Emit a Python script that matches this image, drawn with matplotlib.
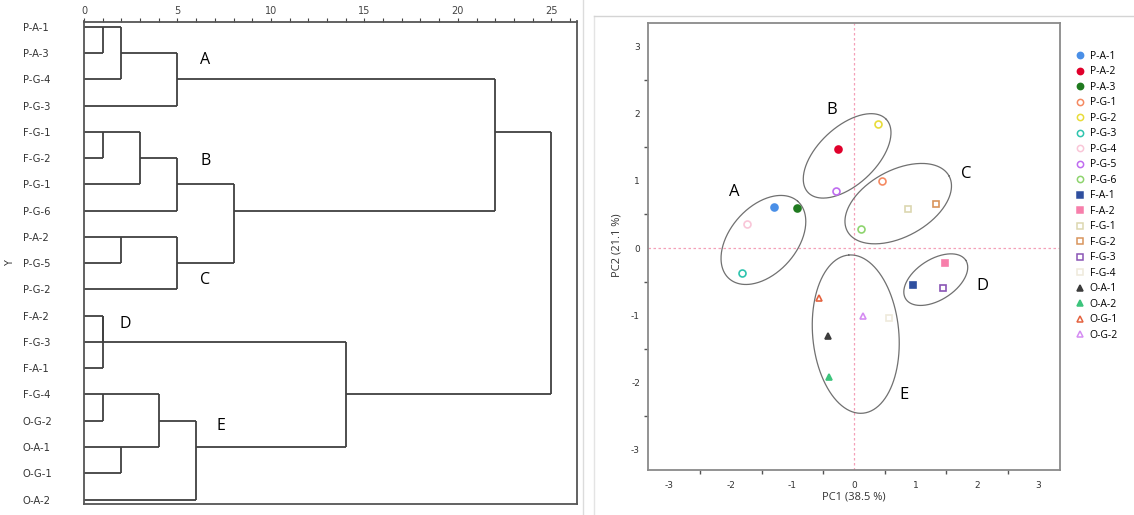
import math
import matplotlib
matplotlib.use("Agg")
import matplotlib.pyplot as plt
import numpy as np
from matplotlib.lines import Line2D

plt.rcParams["axes.unicode_minus"] = False

# -------------------------------------------------------------------
# 1. DATA
# -------------------------------------------------------------------
# Dendrogram leaves (top to bottom) and merges: (child_a, child_b, distance)
leaves = ["P-A-1", "P-A-3", "P-G-4", "P-G-3", "F-G-1", "F-G-2", "P-G-1",
          "P-G-6", "P-A-2", "P-G-5", "P-G-2", "F-A-2", "F-G-3", "F-A-1",
          "F-G-4", "O-G-2", "O-A-1", "O-G-1", "O-A-2"]
merges = [(0, 1, 1.0), (19, 2, 2.0), (20, 3, 5.0),
          (4, 5, 1.0), (22, 6, 3.0), (23, 7, 5.0),
          (8, 9, 2.0), (25, 10, 5.0), (24, 26, 8.0),
          (21, 27, 22.0),
          (11, 12, 1.0), (29, 13, 1.0),
          (14, 15, 1.0), (16, 17, 2.0), (31, 32, 4.0), (33, 18, 6.0),
          (30, 34, 14.0), (28, 35, 25.0)]
dendro_groups = ["A", "B", "C", "D", "E"]
dendro_group_x = [6.5, 6.5, 6.5, 2.2, 7.3]
dendro_group_y = [1.25, 5.1, 9.65, 11.3, 15.2]

# PCA scores
samples = ["P-A-1", "P-A-2", "P-A-3", "P-G-1", "P-G-2", "P-G-3", "P-G-4",
           "P-G-5", "P-G-6", "F-A-1", "F-A-2", "F-G-1", "F-G-2", "F-G-3",
           "F-G-4", "O-A-1", "O-A-2", "O-G-1", "O-G-2"]
pc1 = [-1.29, -0.26, -0.92, 0.46, 0.39, -1.81, -1.73, -0.29, 0.11,
       0.96, 1.48, 0.88, 1.34, 1.45, 0.57, -0.42, -0.40, -0.56, 0.14]
pc2 = [0.61, 1.47, 0.59, 1.00, 1.84, -0.37, 0.35, 0.85, 0.29,
       -0.55, -0.22, 0.58, 0.66, -0.60, -1.04, -1.31, -1.92, -0.74, -1.01]
colors = ["#4a8fe7", "#e0002b", "#1f7a1f", "#f58a62", "#e8dc3a", "#2ec4ae",
          "#f9c6d8", "#bf6cf0", "#8ed46e", "#2f4f9f", "#f77fab", "#dcd7b0",
          "#d9955c", "#8a55b5", "#efeadb", "#3c3c3c", "#3dc47c", "#e4623f",
          "#d58cf2"]

# Group ellipses: centre, semi axes (PC1 units), angle on screen
ell_names = ["A", "B", "C", "D", "E"]
ell_cx = [-1.47, -0.11, 0.72, 1.33, 0.03]
ell_cy = [0.12, 1.37, 0.66, -0.47, -1.28]
ell_a = [0.84, 0.87, 0.94, 0.58, 1.29]
ell_b = [0.54, 0.47, 0.54, 0.33, 0.70]
ell_ang = [48.4, 43.0, 28.5, 32.8, 95.1]
ell_label_x = [-1.95, -0.36, 1.83, 2.08, 0.81]
ell_label_y = [0.83, 2.05, 1.10, -0.57, -2.19]

# -------------------------------------------------------------------
# 2. FIGURE
# -------------------------------------------------------------------
W, H = 1134, 515
fig = plt.figure(figsize=(W / 100, H / 100), dpi=100)

# light frame lines of the right panel / separators
fig.add_artist(Line2D([583 / W, 583 / W], [0, 1], color="#dcdcdc", lw=1))
fig.add_artist(Line2D([594 / W, 594 / W], [0, 1 - 15.7 / H], color="#e4e4e4", lw=1))
fig.add_artist(Line2D([594 / W, 1], [1 - 15.7 / H, 1 - 15.7 / H], color="#d4d4d4", lw=1))

# -------------------------------------------------------------------
# 3. DENDROGRAM
# -------------------------------------------------------------------
ax1 = fig.add_axes([84 / W, 1 - 503.5 / H, (576.5 - 84) / W, (503.5 - 21.5) / H])
n = len(leaves)
node_y = {i: i for i in range(n)}
node_h = {i: 0.0 for i in range(n)}
line_kw = dict(color="#404040", lw=1.3, solid_capstyle="butt")
for k, (a, b, h) in enumerate(merges):
    ya, yb = node_y[a], node_y[b]
    ax1.plot([h, h], [ya, yb], **line_kw)
    ax1.plot([node_h[a], h], [ya, ya], **line_kw)
    ax1.plot([node_h[b], h], [yb, yb], **line_kw)
    node_y[n + k] = math.floor((ya + yb) / 2)
    node_h[n + k] = h

for g, gx, gy in zip(dendro_groups, dendro_group_x, dendro_group_y):
    ax1.text(gx, gy, g, fontsize=11.5, family="Open Sans", ha="center", va="center")

ax1.set_xlim(0, 26.35)
ax1.set_ylim(18.15, -0.2)
ax1.xaxis.tick_top()
ax1.set_xticks(range(0, 26, 5))
ax1.set_xticks(range(0, 27), minor=True)
ax1.tick_params(axis="x", which="both", direction="out", length=3, width=0.8,
                colors="#444444", labelsize=7, pad=1)
ax1.set_yticks(range(n))
ax1.set_yticklabels(leaves)
ax1.tick_params(axis="y", length=0, labelsize=7.2, pad=44, labelcolor="#333333")
for lab in ax1.get_yticklabels():
    lab.set_horizontalalignment("left")
for sp in ax1.spines.values():
    sp.set_color("#555555")
    sp.set_linewidth(1.3)
fig.text(10 / W, 1 - 263 / H, "Y", rotation=90, fontsize=7, color="#333333",
         ha="center", va="center")

# -------------------------------------------------------------------
# 4. PCA SCORE PLOT
# -------------------------------------------------------------------
ax2 = fig.add_axes([648.3 / W, 1 - 470 / H, (1059.5 - 648.3) / W, (470 - 22.7) / H])
xlim = (-3.34, 3.34)
ylim = (-3.3, 3.35)
ax2.set_xlim(*xlim)
ax2.set_ylim(*ylim)

ax2.axvline(0, color="#f4a0b8", lw=0.9, ls=(0, (2, 2)), zorder=1)
ax2.axhline(0, color="#f4a0b8", lw=0.9, ls=(0, (2, 2)), zorder=1)

handles = []
for name, x, y, c in zip(samples, pc1, pc2, colors):
    marker = {"P": "o", "F": "s", "O": "^"}[name[0]]
    filled = name[2] == "A"
    fc = c if filled else "white"
    ax2.plot(x, y, marker=marker, ms=5, mfc=fc, mec=c, mew=1.2, ls="none", zorder=3)
    handles.append(Line2D([], [], marker=marker, ms=4.5, mfc=fc, mec=c, mew=1.1,
                          ls="none", label=name))

# ellipses drawn as parametric curves, corrected for axes aspect
ax_w_px = (1059.5 - 648.3)
ax_h_px = (470 - 22.7)
sx = ax_w_px / (xlim[1] - xlim[0])
sy = ax_h_px / (ylim[1] - ylim[0])
t = np.linspace(0, 2 * np.pi, 300)
for cx, cy, a, b, ang in zip(ell_cx, ell_cy, ell_a, ell_b, ell_ang):
    th = np.radians(ang)
    dx = a * np.cos(th) * np.cos(t) - b * np.sin(th) * np.sin(t)
    dy = a * np.sin(th) * np.cos(t) + b * np.cos(th) * np.sin(t)
    ax2.plot(cx + dx, cy + dy * sx / sy, color="#707070", lw=0.9, zorder=2)

for g, gx, gy in zip(ell_names, ell_label_x, ell_label_y):
    ax2.text(gx, gy, g, fontsize=12, family="Open Sans", ha="center", va="center")

ax2.set_xticks(range(-3, 4))
ax2.set_yticks(range(-3, 4))
ax2.set_xticks(np.arange(-2.5, 3.0, 1.0), minor=True)
ax2.set_yticks(np.arange(-2.5, 3.0, 1.0), minor=True)
ax2.tick_params(which="major", length=0, labelsize=6.5, colors="#333333", pad=8)
ax2.tick_params(which="minor", length=3, width=1, color="#555555")
ax2.tick_params(axis="y", which="major", pad=6)
for sp in ax2.spines.values():
    sp.set_color("#8a8a8a")
    sp.set_linewidth(1.3)

fig.text(853.7 / W, 1 - 497 / H, "PC1 (38.5 %)", fontsize=8, family="Open Sans",
         color="#333333", ha="center", va="center")
fig.text(617 / W, 1 - 245 / H, "PC2 (21.1 %)", fontsize=8, family="Open Sans",
         color="#333333", ha="center", va="center", rotation=90)

fig.legend(handles=handles, loc="upper left", bbox_to_anchor=(1076 / W, 1 - 51 / H),
           frameon=False, prop={"family": "Open Sans", "size": 7.5},
           handlelength=0.8, handletextpad=0.5, labelspacing=0.43,
           borderpad=0, borderaxespad=0)

fig.savefig("out.png", dpi=100)
